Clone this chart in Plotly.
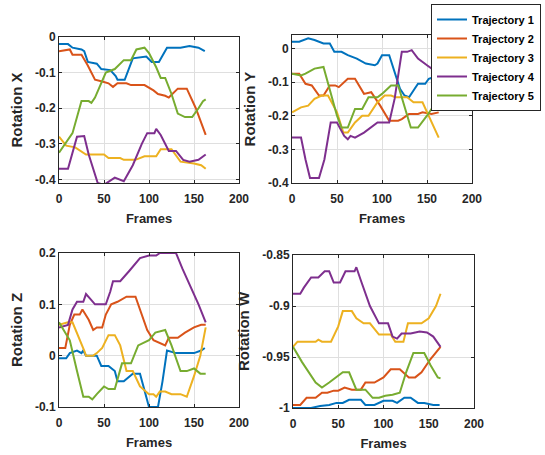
import plotly.graph_objects as go

names = ["Trajectory 1", "Trajectory 2", "Trajectory 3", "Trajectory 4", "Trajectory 5"]
colors = ["#0072BD", "#D95319", "#EDB120", "#7E2F8E", "#77AC30"]

# ---- Rotation X ----
rx_f1 = [0, 10, 15, 25, 28, 32, 42, 47, 57, 63, 65, 73, 82, 97, 103, 111, 120, 135, 145, 155, 162]
rx_v1 = [-0.02, -0.02, -0.03, -0.035, -0.04, -0.07, -0.075, -0.09, -0.093, -0.11, -0.12, -0.12, -0.06, -0.055, -0.07, -0.07, -0.03, -0.03, -0.025, -0.03, -0.04]
rx_f2 = [0, 12, 15, 25, 32, 40, 48, 55, 60, 65, 75, 80, 95, 105, 110, 118, 122, 132, 142, 152, 163]
rx_v2 = [-0.04, -0.035, -0.05, -0.05, -0.08, -0.12, -0.125, -0.13, -0.14, -0.13, -0.13, -0.135, -0.135, -0.15, -0.16, -0.165, -0.17, -0.145, -0.145, -0.2, -0.275]
rx_f3 = [0, 8, 18, 30, 50, 55, 68, 72, 85, 95, 108, 113, 125, 135, 150, 158, 163]
rx_v3 = [-0.28, -0.305, -0.31, -0.33, -0.33, -0.34, -0.34, -0.345, -0.345, -0.335, -0.335, -0.315, -0.315, -0.35, -0.355, -0.36, -0.37]
rx_f4 = [0, 10, 20, 28, 33, 43, 50, 60, 62, 72, 82, 92, 98, 106, 108, 113, 122, 130, 138, 145, 155, 163]
rx_v4 = [-0.37, -0.37, -0.28, -0.278, -0.33, -0.41, -0.415, -0.40, -0.395, -0.405, -0.36, -0.3, -0.27, -0.27, -0.258, -0.275, -0.32, -0.32, -0.345, -0.35, -0.345, -0.33]
rx_f5 = [0, 7, 15, 25, 33, 36, 40, 52, 57, 62, 72, 80, 86, 95, 100, 108, 113, 118, 125, 132, 140, 148, 155, 160, 163]
rx_v5 = [-0.325, -0.3, -0.27, -0.18, -0.18, -0.185, -0.17, -0.1, -0.095, -0.09, -0.065, -0.065, -0.035, -0.03, -0.045, -0.085, -0.115, -0.115, -0.16, -0.215, -0.225, -0.225, -0.2, -0.18, -0.175]

# ---- Rotation Y ----
ry_f1 = [0, 8, 18, 25, 35, 42, 47, 55, 62, 72, 82, 92, 95, 100, 108, 113, 120, 125, 130, 135, 140, 148, 152, 158, 162]
ry_v1 = [0.02, 0.02, 0.03, 0.025, 0.015, 0.015, -0.01, -0.01, -0.02, -0.03, -0.045, -0.05, -0.045, -0.02, -0.02, -0.06, -0.12, -0.14, -0.145, -0.125, -0.105, -0.105, -0.09, -0.085, -0.07]
ry_f2 = [0, 8, 15, 22, 30, 35, 42, 48, 52, 62, 70, 80, 88, 98, 108, 118, 122, 130, 140, 145, 155, 163]
ry_v2 = [-0.075, -0.075, -0.105, -0.11, -0.14, -0.14, -0.11, -0.11, -0.115, -0.09, -0.09, -0.135, -0.13, -0.17, -0.215, -0.215, -0.21, -0.195, -0.195, -0.19, -0.195, -0.19]
ry_f3 = [0, 10, 18, 25, 33, 40, 50, 57, 62, 70, 78, 85, 95, 103, 110, 115, 128, 135, 145, 152, 163]
ry_v3 = [-0.19, -0.175, -0.17, -0.15, -0.14, -0.14, -0.19, -0.25, -0.25, -0.22, -0.2, -0.2, -0.16, -0.14, -0.14, -0.145, -0.145, -0.16, -0.16, -0.2, -0.265]
ry_f4 = [0, 10, 15, 20, 30, 36, 43, 50, 58, 62, 65, 70, 80, 88, 95, 108, 114, 122, 128, 133, 140, 150, 158, 163]
ry_v4 = [-0.265, -0.265, -0.33, -0.385, -0.385, -0.33, -0.22, -0.22, -0.26, -0.27, -0.26, -0.265, -0.25, -0.235, -0.22, -0.22, -0.15, -0.01, -0.01, -0.005, -0.03, -0.05, -0.065, -0.075]
ry_f5 = [0, 10, 15, 25, 35, 42, 50, 55, 62, 70, 78, 85, 95, 100, 110, 118, 125, 132, 140, 150, 160, 163]
ry_v5 = [-0.075, -0.08, -0.075, -0.06, -0.055, -0.12, -0.2, -0.235, -0.235, -0.18, -0.18, -0.145, -0.145, -0.135, -0.11, -0.11, -0.17, -0.235, -0.235, -0.2, -0.16, -0.155]

# ---- Rotation Z ----
rz_f1 = [0, 8, 12, 20, 25, 27, 30, 42, 47, 55, 62, 65, 72, 78, 82, 90, 95, 100, 110, 115, 120, 130, 140, 150, 158, 162]
rz_v1 = [-0.005, -0.005, 0.005, 0.01, 0.005, 0.01, 0.0, 0.0, -0.02, -0.02, -0.03, -0.05, -0.05, -0.04, -0.035, -0.035, -0.07, -0.1, -0.1, -0.05, 0.01, 0.005, 0.005, 0.005, 0.01, 0.015]
rz_f2 = [0, 7, 12, 17, 23, 26, 33, 38, 42, 48, 52, 58, 65, 75, 85, 92, 98, 105, 112, 118, 122, 132, 140, 150, 158, 163]
rz_v2 = [0.015, 0.015, 0.06, 0.08, 0.08, 0.09, 0.07, 0.05, 0.055, 0.055, 0.08, 0.1, 0.105, 0.115, 0.115, 0.08, 0.05, 0.03, 0.025, 0.02, 0.035, 0.035, 0.045, 0.055, 0.06, 0.06]
rz_f3 = [0, 10, 15, 20, 28, 30, 38, 42, 48, 55, 62, 68, 75, 82, 90, 100, 105, 108, 112, 118, 125, 135, 142, 150, 157, 163]
rz_v3 = [0.06, 0.065, 0.065, 0.045, 0.01, 0.0, 0.0, 0.005, 0.015, 0.04, 0.04, 0.02, -0.03, -0.03, -0.06, -0.075, -0.075, -0.08, -0.07, -0.07, -0.075, -0.075, -0.08, -0.04, 0.0, 0.055]
rz_f4 = [0, 10, 15, 20, 27, 30, 35, 40, 52, 57, 60, 68, 78, 90, 100, 108, 112, 130, 137, 145, 155, 163]
rz_v4 = [0.055, 0.06, 0.09, 0.105, 0.105, 0.12, 0.11, 0.1, 0.1, 0.125, 0.145, 0.145, 0.165, 0.19, 0.195, 0.195, 0.2, 0.2, 0.17, 0.14, 0.1, 0.065]
rz_f5 = [0, 5, 12, 20, 27, 33, 37, 42, 50, 55, 62, 70, 80, 88, 95, 100, 107, 118, 125, 135, 142, 150, 157, 163]
rz_v5 = [0.065, 0.05, 0.03, -0.03, -0.08, -0.08, -0.085, -0.075, -0.06, -0.065, -0.065, -0.015, -0.015, 0.02, 0.025, 0.03, 0.045, 0.05, 0.02, -0.03, -0.03, -0.025, -0.035, -0.035]

# ---- Rotation W ----
rw_f1 = [0, 20, 30, 40, 48, 55, 62, 75, 80, 90, 100, 110, 115, 123, 130, 138, 145, 155, 162]
rw_v1 = [-1.0, -1.0, -0.998, -0.997, -0.995, -0.995, -0.992, -0.992, -0.997, -0.997, -0.993, -0.993, -0.995, -0.99, -0.99, -0.995, -0.995, -0.997, -0.997]
rw_f2 = [0, 8, 15, 25, 32, 38, 45, 50, 57, 65, 75, 80, 90, 100, 108, 118, 128, 135, 142, 152, 163]
rw_v2 = [-0.997, -0.997, -0.99, -0.99, -0.985, -0.985, -0.983, -0.983, -0.98, -0.982, -0.982, -0.975, -0.975, -0.97, -0.962, -0.962, -0.97, -0.97, -0.965, -0.952, -0.94]
rw_f3 = [0, 5, 25, 28, 32, 42, 50, 55, 65, 70, 78, 85, 95, 108, 113, 122, 127, 142, 150, 158, 163]
rw_v3 = [-0.94, -0.935, -0.935, -0.933, -0.935, -0.935, -0.92, -0.905, -0.905, -0.912, -0.917, -0.917, -0.928, -0.928, -0.935, -0.935, -0.917, -0.917, -0.912, -0.9, -0.888]
rw_f4 = [0, 8, 12, 20, 28, 35, 40, 45, 52, 58, 68, 70, 75, 85, 95, 105, 110, 115, 120, 130, 140, 148, 155, 163]
rw_v4 = [-0.888, -0.888, -0.882, -0.872, -0.872, -0.866, -0.866, -0.877, -0.877, -0.866, -0.866, -0.862, -0.875, -0.9, -0.917, -0.917, -0.93, -0.932, -0.927, -0.927, -0.925, -0.926, -0.93, -0.94]
rw_f5 = [0, 10, 25, 32, 40, 50, 55, 62, 70, 80, 88, 95, 102, 110, 118, 125, 133, 145, 152, 160, 163]
rw_v5 = [-0.94, -0.955, -0.975, -0.98, -0.975, -0.968, -0.965, -0.965, -0.982, -0.982, -0.99, -0.99, -0.988, -0.987, -0.985, -0.965, -0.946, -0.946, -0.958, -0.97, -0.971]

x_ticks = [0, 50, 100, 150, 200]
x_tick_text = ["0", "50", "100", "150", "200"]
rx_ticks = [-0.4, -0.3, -0.2, -0.1, 0]
rx_tick_text = ["-0.4", "-0.3", "-0.2", "-0.1", "0"]
ry_ticks = [-0.4, -0.3, -0.2, -0.1, 0]
ry_tick_text = ["-0.4", "-0.3", "-0.2", "-0.1", "0"]
rz_ticks = [-0.1, 0, 0.1, 0.2]
rz_tick_text = ["-0.1", "0", "0.1", "0.2"]
rw_ticks = [-1, -0.95, -0.9, -0.85]
rw_tick_text = ["-1", "-0.95", "-0.9", "-0.85"]

panels = [
    dict(f=[rx_f1, rx_f2, rx_f3, rx_f4, rx_f5], v=[rx_v1, rx_v2, rx_v3, rx_v4, rx_v5],
         title="Rotation X", rng=[-0.41, 0.0], tv=rx_ticks, tt=rx_tick_text,
         xd=[59/545, 239/545], yd=[1-183/455, 1-37/455]),
    dict(f=[ry_f1, ry_f2, ry_f3, ry_f4, ry_f5], v=[ry_v1, ry_v2, ry_v3, ry_v4, ry_v5],
         title="Rotation Y", rng=[-0.4, 0.04], tv=ry_ticks, tt=ry_tick_text,
         xd=[292/545, 472/545], yd=[1-183/455, 1-35/455]),
    dict(f=[rz_f1, rz_f2, rz_f3, rz_f4, rz_f5], v=[rz_v1, rz_v2, rz_v3, rz_v4, rz_v5],
         title="Rotation Z", rng=[-0.1, 0.2], tv=rz_ticks, tt=rz_tick_text,
         xd=[59/545, 239/545], yd=[1-407/455, 1-253/455]),
    dict(f=[rw_f1, rw_f2, rw_f3, rw_f4, rw_f5], v=[rw_v1, rw_v2, rw_v3, rw_v4, rw_v5],
         title="Rotation W", rng=[-1.0, -0.85], tv=rw_ticks, tt=rw_tick_text,
         xd=[293/545, 474/545], yd=[1-408/455, 1-255/455]),
]

FONT = "Liberation Sans, Arial, sans-serif"
AX = "#262626"
GRID = "#dfdfdf"

fig = go.Figure()
layout = {}
for i, p in enumerate(panels):
    n = "" if i == 0 else str(i + 1)
    for k in range(5):
        fig.add_trace(go.Scatter(
            x=p["f"][k], y=p["v"][k], mode="lines", name=names[k],
            line=dict(color=colors[k], width=2),
            xaxis="x" + n, yaxis="y" + n, showlegend=(i == 0)))
    layout["xaxis" + n] = dict(
        domain=p["xd"], range=[0, 200], anchor="y" + n,
        tickvals=x_ticks, ticktext=x_tick_text, automargin=False,
        showline=True, linecolor=AX, linewidth=1, mirror="ticks",
        ticks="inside", ticklen=3, tickcolor=AX, ticklabelstandoff=5,
        showgrid=True, gridcolor=GRID, zeroline=False,
        tickfont=dict(family=FONT, size=12, color=AX, weight="bold"),
        title=dict(text="Frames", font=dict(family=FONT, size=13, color=AX, weight="bold"), standoff=8))
    layout["yaxis" + n] = dict(
        domain=p["yd"], range=p["rng"], anchor="x" + n,
        tickvals=p["tv"], ticktext=p["tt"], automargin=False,
        showline=True, linecolor=AX, linewidth=1, mirror="ticks",
        ticks="inside", ticklen=3, tickcolor=AX,
        showgrid=True, gridcolor=GRID, zeroline=False,
        tickfont=dict(family=FONT, size=12, color=AX, weight="bold"),
        title=dict(text=p["title"], font=dict(family=FONT, size=15, color=AX, weight="bold"), standoff=8))

fig.update_layout(
    width=545, height=455,
    margin=dict(l=0, r=0, t=0, b=0, autoexpand=False),
    paper_bgcolor="white", plot_bgcolor="white",
    showlegend=True,
    legend=dict(x=541/545, y=1-4/455, xanchor="right", yanchor="top",
                bgcolor="white", bordercolor="#262626", borderwidth=1,
                font=dict(family=FONT, size=11, color="black", weight="bold"),
                tracegroupgap=0, itemwidth=30),
    **layout)

fig.write_html("out.html", config={"displayModeBar": False},
               post_script="document.body.style.margin='0';document.body.style.padding='0';")
